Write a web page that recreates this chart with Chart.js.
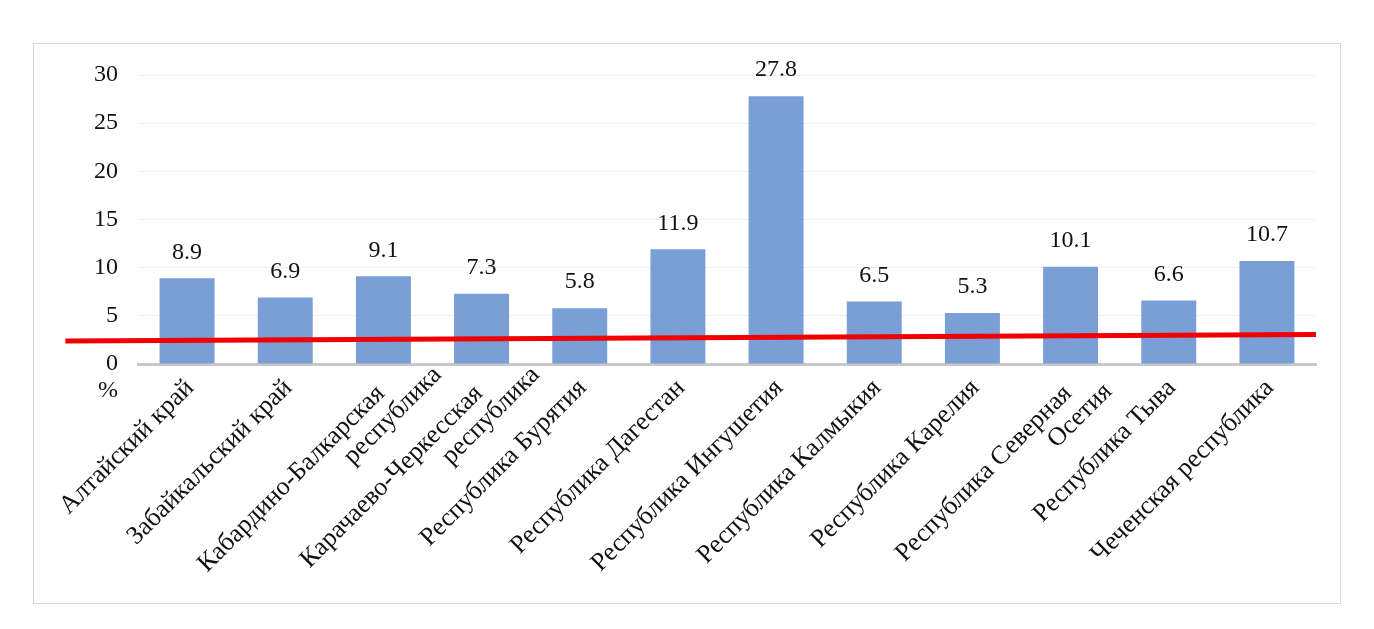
<!DOCTYPE html>
<html>
<head>
<meta charset="utf-8">
<script src="https://cdn.jsdelivr.net/npm/chart.js@4"></script>
<style>
  body { margin: 0; background: #fff; }
  #box { position: absolute; left: 33px; top: 43px; width: 1306px; height: 559px; border: 1px solid #d9d9d9; }
</style>
</head>
<body>
<div id="box"><canvas id="chart"></canvas></div>
<script>
const regions = [
    'Алтайский край', 'Забайкальский край', ['Кабардино-Балкарская', 'республика'],
    ['Карачаево-Черкесская', 'республика'], 'Республика Бурятия', 'Республика Дагестан',
    'Республика Ингушетия', 'Республика Калмыкия', 'Республика Карелия',
    ['Республика Северная', 'Осетия'], 'Республика Тыва', 'Чеченская республика'
];
const values = [8.9, 6.9, 9.1, 7.3, 5.8, 11.9, 27.8, 6.5, 5.3, 10.1, 6.6, 10.7];
// trend line ends, x in category index units
const trendX = [-1.24, 11.5];
const trendY = [2.4, 3.05];
const yTicks = [0, 5, 10, 15, 20, 25, 30];

const serif = '"Liberation Serif", "Times New Roman", serif';

// red trend line, value labels, rotated category labels (2nd line centred like Excel), "%"
const overlayPlugin = {
    id: 'overlay',
    afterDatasetsDraw(chart) {
        const ctx = chart.ctx;
        const xs = chart.scales.x, ys = chart.scales.y;
        ctx.save();
        ctx.strokeStyle = '#f00000';
        ctx.lineWidth = 5;
        ctx.beginPath();
        trendX.forEach((x, i) => {
            const px = xs.getPixelForValue(x), py = ys.getPixelForValue(trendY[i]);
            if (i === 0) ctx.moveTo(px, py); else ctx.lineTo(px, py);
        });
        ctx.stroke();

        ctx.fillStyle = '#111';
        ctx.textBaseline = 'middle';
        ctx.font = '24px ' + serif;
        ctx.textAlign = 'center';
        chart.getDatasetMeta(0).data.forEach((bar, i) => {
            ctx.fillText(values[i].toFixed(1), bar.x, bar.y - 26);
        });
        ctx.fillText('%', ys.right - 30, ys.getPixelForValue(0) + 27);

        ctx.font = '26px ' + serif;
        regions.forEach((lab, i) => {
            ctx.save();
            ctx.translate(xs.getPixelForValue(i) + 3, xs.top + 20);
            ctx.rotate(-Math.PI / 4);
            ctx.textAlign = 'right';
            if (Array.isArray(lab)) {
                ctx.fillText(lab[0], -8, 0);
                ctx.textAlign = 'center';
                ctx.fillText(lab[1], -18, 27);
            } else {
                ctx.fillText(lab, 0, 0);
            }
            ctx.restore();
        });
        ctx.restore();
    }
};

new Chart(document.getElementById('chart'), {
    type: 'bar',
    data: {
        labels: regions,
        datasets: [{
            data: values,
            backgroundColor: '#7a9ed6',
            barPercentage: 0.56,
            categoryPercentage: 1
        }]
    },
    options: {
        responsive: true,
        maintainAspectRatio: false,
        animation: false,
        layout: { padding: { left: 0, right: 24, top: 31, bottom: 0 } },
        plugins: { legend: { display: false }, tooltip: { enabled: false } },
        scales: {
            x: {
                grid: { display: false },
                border: { color: '#c8c8c8', width: 3 },
                ticks: { display: false },
                afterFit(s) { s.height = 239; }
            },
            y: {
                min: 0, max: 30,
                afterBuildTicks(s) { s.ticks = yTicks.map(v => ({ value: v })); },
                grid: { color: ctx => ctx.tick && ctx.tick.value === 0 ? 'rgba(0,0,0,0)' : '#efefef', drawTicks: false },
                border: { display: false },
                ticks: { padding: 20, font: { size: 24, family: serif }, color: '#111' },
                afterFit(s) { s.width = 104; s.paddingTop = 0; s.paddingBottom = 0; }
            }
        }
    },
    plugins: [overlayPlugin]
});
</script>
</body>
</html>
